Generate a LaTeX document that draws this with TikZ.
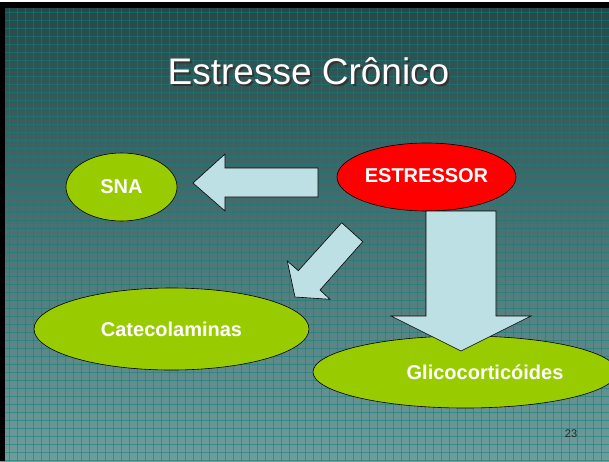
\documentclass[tikz,border=0pt]{standalone}
\usepackage{fontspec}
\setmainfont{Liberation Sans}
\usetikzlibrary{shapes.geometric}
\definecolor{bgtop}{RGB}{36,72,72}
\definecolor{bgbot}{RGB}{112,156,156}
\definecolor{gridteal}{RGB}{10,130,130}
\definecolor{limegreen}{RGB}{153,204,0}
\definecolor{paleblue}{RGB}{189,224,228}
\begin{document}
\begin{tikzpicture}[x=1pt,y=-1pt,
  gridline/.style={gridteal,line width=0.8pt,opacity=0.55},
  main node/.style={ellipse,draw=black,line width=0.6pt,fill=limegreen,inner sep=0pt,
    text=white,font=\fontsize{20}{24}\selectfont\bfseries},
  block arrow/.style={draw=black,line width=0.6pt,fill=paleblue,line join=miter}]

  \useasboundingbox (0,0) rectangle (609,461);
  % slide background
  \fill[white] (0,0) rectangle (609,461);
  \shade[top color=bgtop,bottom color=bgbot] (0,2) rectangle (609,461);
  \foreach \x in {9,17,...,609} \draw[gridline] (\x,8) -- (\x,461);
  \foreach \y in {12,20,...,461} \draw[gridline] (5,\y) -- (609,\y);
  \fill[black] (0,2) rectangle (609,8);
  \fill[black] (0,2) rectangle (5,461);

  % title
  \node[text=black!80,font=\fontsize{37}{44}\selectfont] (shadow) at (310.5,73.5) {Estresse Crônico};
  \node[text=white,font=\fontsize{37}{44}\selectfont] (title) at (308.5,71.5) {Estresse Crônico};

  \node[main node,minimum width=111pt,minimum height=68pt] (sna) at (121.5,187) {SNA};
  \node[main node,fill=red,minimum width=179pt,minimum height=68pt] (estressor) at (426.5,177) {\raisebox{3pt}{ESTRESSOR}};
  \node[main node,minimum width=275pt,minimum height=82pt] (catecol) at (171.5,329) {Catecolaminas};
  \node[main node,minimum width=304pt,minimum height=72pt,
    label={[text=white,font=\fontsize{20}{24}\selectfont\bfseries,xshift=20pt]center:Glicocorticóides}]
    (glico) at (465,372) {};

  % arrows
  \draw[block arrow] (318,168) -- (225,168) -- (225,154) -- (193,183)
    -- (225,211) -- (225,197) -- (318,197) -- cycle;
  \draw[block arrow] (341.7,222.7) -- (362.7,241.7) -- (320,290) -- (330,299.3)
    -- (295,297) -- (287.3,261) -- (298.3,270.7) -- cycle;
  \draw[block arrow] (426,211) -- (496,211) -- (496,316) -- (531,316)
    -- (461,351) -- (391,316) -- (426,316) -- cycle;

  \node[text=black!85,font=\fontsize{11}{13}\selectfont] (page) at (571,434) {23};
\end{tikzpicture}
\end{document}
